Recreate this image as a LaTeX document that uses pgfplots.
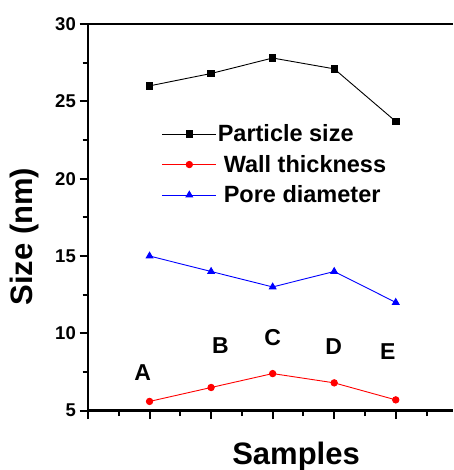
\documentclass[border=0pt]{standalone}
\usepackage{fontspec}
\setmainfont{Liberation Sans}
\usepackage{pgfplots}
\pgfplotsset{compat=1.18}
\begin{document}
\begin{tikzpicture}
\begin{axis}[
  name=ax,
  scale only axis,
  width=365pt, height=386.7pt,
  xmin=0, xmax=5.93, ymin=5, ymax=30,
  axis x line*=box, axis y line*=left,
  x axis line style={-, line width=2.6pt, black},
  y axis line style={-, line width=2.6pt, black},
  xtick={0,1,...,5}, minor xtick={0.5,1.5,...,5.5},
  xticklabels={},
  ytick={5,10,...,30}, minor ytick={7.5,12.5,...,27.5},
  tick align=outside, tick pos=left,
  major tick length=8.5pt, minor tick length=5.5pt,
  major tick style={line width=2pt, black},
  minor tick style={line width=2pt, black},
  /pgf/number format/assume math mode=true,
  ticklabel style={font=\fontsize{18.5}{20}\selectfont\bfseries},
  yticklabel style={inner sep=1pt, xshift=-2.5pt},
  xlabel={Samples}, ylabel={Size (nm)},
  label style={font=\fontsize{31}{33}\selectfont\bfseries},
  x label style={at={(axis description cs:0.57,0)}, anchor=base, yshift=-54pt},
  y label style={at={(axis description cs:-0.151,0.45)}, anchor=base, rotate=0},
  legend cell align=left,
  legend style={draw=none, fill=none, inner sep=0pt, outer sep=0pt,
    at={(axis cs:1.20,23.55)}, anchor=north west,
    font=\fontsize{23.5}{25}\selectfont\bfseries,
    nodes={inner sep=1pt}, row sep=10pt, column sep=0pt},
  legend image code/.code={%
    \draw[mark repeat=2, mark phase=2, #1]
      plot coordinates {(0pt,0pt) (27pt,0pt) (54pt,0pt)};},
  every axis plot/.append style={line width=0.9pt, mark options={solid}},
]
\addplot[black, mark=square*, mark size=3.2pt]
  coordinates {(1,26.0) (2,26.8) (3,27.8) (4,27.1) (5,23.7)};
\addlegendentry{Particle size}
\addplot[red, mark=*, mark size=3.2pt]
  coordinates {(1,5.6) (2,6.5) (3,7.4) (4,6.8) (5,5.7)};
\addlegendentry{\hspace{6pt}Wall thickness}
\addplot[blue, mark=triangle*, mark size=3.8pt]
  coordinates {(1,15.0) (2,14.0) (3,13.0) (4,14.0) (5,12.0)};
\addlegendentry{\hspace{6pt}Pore diameter}

\begin{scope}[every node/.style={font=\fontsize{23}{23}\selectfont\bfseries}]
  \node at (axis cs:0.89,7.44) {A};
  \node at (axis cs:2.15,9.18) {B};
  \node at (axis cs:3.00,9.70) {C};
  \node at (axis cs:3.99,9.12) {D};
  \node at (axis cs:4.87,8.80) {E};
\end{scope}
\end{axis}
\pgfresetboundingbox
\path[use as bounding box] (ax.south west) ++(-88pt,-59.3pt) rectangle ++(453pt,470pt);
\end{tikzpicture}
\end{document}
